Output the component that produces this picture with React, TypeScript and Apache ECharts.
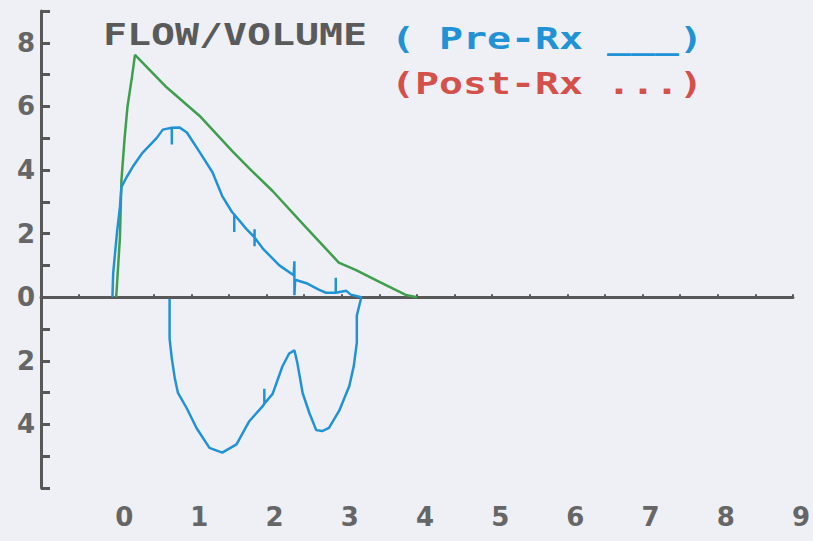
import React, { useEffect, useRef } from "react";
import * as echarts from "echarts";

// Pre-Rx flow/volume loop (expiration left->right, then inspiration right->left)
const preVolume = [
  -0.05, -0.04, 0.01, 0.05, 0.07, 0.14, 0.22, 0.35, 0.54, 0.62, 0.74, 0.74, 0.74, 0.84, 0.94, 1.11,
  1.28, 1.41, 1.54, 1.57, 1.57, 1.57, 1.73, 1.84, 1.84, 1.84, 1.84, 1.95, 2.17, 2.36, 2.37, 2.37, 2.38, 2.53, 2.7,
  2.79, 2.92, 2.92, 2.92, 3.06, 3.12, 3.26,
  3.2, 3.2, 3.16, 3.1, 2.97, 2.83, 2.74, 2.66, 2.57, 2.48, 2.41, 2.37, 2.3, 2.21, 2.08, 1.97,
  1.97, 1.97, 1.94, 1.77, 1.6, 1.41, 1.24, 1.07, 0.94, 0.82, 0.78, 0.74, 0.71, 0.71,
];
const preFlow = [
  0, 0.76, 2.02, 2.84, 3.47, 3.78, 4.1, 4.54, 5.01, 5.27, 5.33, 4.8, 5.33, 5.34, 5.18, 4.56,
  3.93, 3.18, 2.68, 2.6, 2.05, 2.6, 2.15, 1.88, 2.14, 1.6, 1.88, 1.53, 1.0, 0.69, 1.13, 0.06, 0.55, 0.44, 0.23,
  0.14, 0.14, 0.61, 0.14, 0.2, 0.08, 0,
  -0.58, -1.43, -2.16, -2.79, -3.55, -4.11, -4.21, -4.18, -3.65, -3.02, -2.08, -1.67, -1.77, -2.18, -3.04, -3.35,
  -2.88, -3.35, -3.45, -3.9, -4.63, -4.89, -4.74, -4.12, -3.5, -3.0, -2.56, -1.93, -1.3, -0.05,
];

// Predicted (green) curve
const predVolume = [0, 0.05, 0.07, 0.11, 0.15, 0.21, 0.25, 0.67, 1.11, 1.55, 1.77, 2.08, 2.53, 2.96, 3.19, 3.5, 3.85, 4.0];
const predFlow = [0, 1.89, 3.69, 4.95, 5.99, 6.93, 7.62, 6.6, 5.7, 4.58, 4.05, 3.34, 2.18, 1.09, 0.85, 0.48, 0.07, 0];

const titleText = "FLOW/VOLUME";
const preLegendText = "( Pre-Rx ___)";
const postLegendText = "(Post-Rx ...)";

const AXIS_GRAY = "#585858";
const LABEL_GRAY = "#666666";
const BLUE = "#2192d6";
const GREEN = "#3f9e4e";
const RED = "#d4504a";

const HEAD_FAMILY = "DejaVu Sans Mono";
const HEAD_SIZE = 30;

function measure(text: string): number {
  const c = document.createElement("canvas").getContext("2d");
  if (!c) return text.length * HEAD_SIZE * 0.602;
  c.font = `bold ${HEAD_SIZE}px "${HEAD_FAMILY}"`;
  return c.measureText(text).width;
}

export default function App() {
  const ref = useRef<HTMLDivElement>(null);

  useEffect(() => {
    const chart = echarts.init(ref.current!, null, { renderer: "svg" });
    const preData = preVolume.map((v, i) => [v, preFlow[i]]);
    const predData = predVolume.map((v, i) => [v, predFlow[i]]);
    const labelFont = {
      fontFamily: "DejaVu Sans",
      fontWeight: "bold" as const,
      fontSize: 26,
      color: LABEL_GRAY,
    };
    const headText = (text: string, fill: string, x: number, y: number, targetWidth: number) => ({
      type: "text",
      x,
      y,
      scaleX: targetWidth / measure(text),
      scaleY: 1,
      style: {
        text,
        fontFamily: HEAD_FAMILY,
        fontWeight: "bold",
        fontSize: HEAD_SIZE,
        fill,
        verticalAlign: "middle",
        align: "left",
      },
    });
    chart.setOption({
      animation: false,
      backgroundColor: "#eef0f5",
      grid: { left: 41, right: 18, top: 11, bottom: 53 },
      xAxis: [
        {
          type: "value",
          min: -1,
          max: 9,
          interval: 1,
          position: "bottom",
          axisLine: { show: false, onZero: false },
          axisTick: { show: false },
          splitLine: { show: false },
          axisLabel: {
            ...labelFont,
            margin: 16,
            padding: [0, 0, 0, 16],
            formatter: (v: number) => (v < 0 ? "" : String(v)),
          },
        },
        {
          type: "value",
          min: -1,
          max: 9,
          interval: 0.5,
          position: "top",
          axisLine: { show: true, onZero: true, lineStyle: { color: AXIS_GRAY, width: 3 } },
          axisTick: { show: true, length: 3, lineStyle: { color: AXIS_GRAY, width: 2 } },
          axisLabel: { show: false },
          splitLine: { show: false },
        },
      ],
      yAxis: {
        type: "value",
        min: -6,
        max: 9,
        interval: 1,
        axisLine: { show: true, onZero: false, lineStyle: { color: AXIS_GRAY, width: 3 } },
        axisTick: { show: true, inside: true, length: 9, lineStyle: { color: AXIS_GRAY, width: 3 } },
        splitLine: { show: false },
        axisLabel: {
          ...labelFont,
          margin: 6,
          formatter: (v: number) =>
            v === -6 || v === 9 || Math.abs(v) % 2 === 1 ? "" : String(Math.abs(v)),
        },
      },
      series: [
        {
          type: "line",
          name: "Predicted",
          data: predData,
          showSymbol: false,
          lineStyle: { color: GREEN, width: 2.5 },
          z: 2,
        },
        {
          type: "line",
          name: "Pre-Rx",
          data: preData,
          showSymbol: false,
          lineStyle: { color: BLUE, width: 2.5 },
          z: 3,
        },
      ],
      graphic: [
        headText(titleText, "#5a5a5a", 103, 34, 264),
        headText(preLegendText, BLUE, 391, 38, 312),
        headText(postLegendText, RED, 391, 83, 312),
      ],
    });
    return () => chart.dispose();
  }, []);

  return (
    <div
      ref={ref}
      style={{ position: "fixed", left: 0, top: 0, width: 813, height: 541 }}
    />
  );
}
